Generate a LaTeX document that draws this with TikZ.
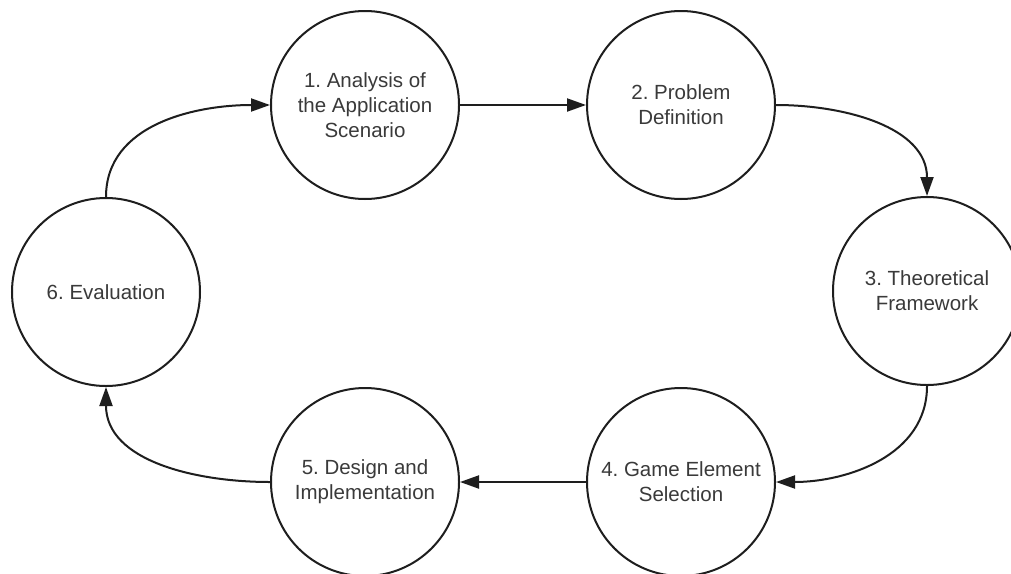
\documentclass[tikz,border=0pt]{standalone}
\usepackage{fontspec}
\setmainfont{Liberation Sans}
\usetikzlibrary{arrows.meta}
\definecolor{txt}{HTML}{3A3A3A}
\definecolor{ln}{HTML}{1E1E1E}
\frenchspacing
\tikzset{
  stage/.style={circle, draw=ln, line width=2pt, minimum size=188pt, inner sep=0pt,
    align=center, text=txt, font=\fontsize{20.5}{25}\selectfont\frenchspacing},
  flow/.style={draw=ln, line width=2pt, -{Triangle[length=19pt,width=13pt]}}
}
\begin{document}
\begin{tikzpicture}[x=1pt,y=-1pt]
\clip (0,0) rectangle (1011,573);
\fill[white] (0,0) rectangle (1011,573);
\node[stage] (s1) at (365,105) {1. Analysis of\\the Application\\Scenario};
\node[stage] (s2) at (681,105) {2. Problem\\Definition};
\node[stage] (s3) at (927,291) {3. Theoretical\\Framework};
\node[stage] (s4) at (681,482) {4. Game Element\\Selection};
\node[stage] (s5) at (365,482) {5. Design and\\Implementation};
\node[stage] (s6) at (106,292) {6. Evaluation};
\draw[flow] (s1.east) -- (s2.west);
\draw[flow] (s2.east) to[out=0,in=90] (s3.north);
\draw[flow] (s3.south) to[out=-90,in=0] (s4.east);
\draw[flow] (s4.west) -- (s5.east);
\draw[flow] (s5.west) to[out=180,in=-90] (s6.south);
\draw[flow] (s6.north) to[out=90,in=180] (s1.west);
\end{tikzpicture}
\end{document}
